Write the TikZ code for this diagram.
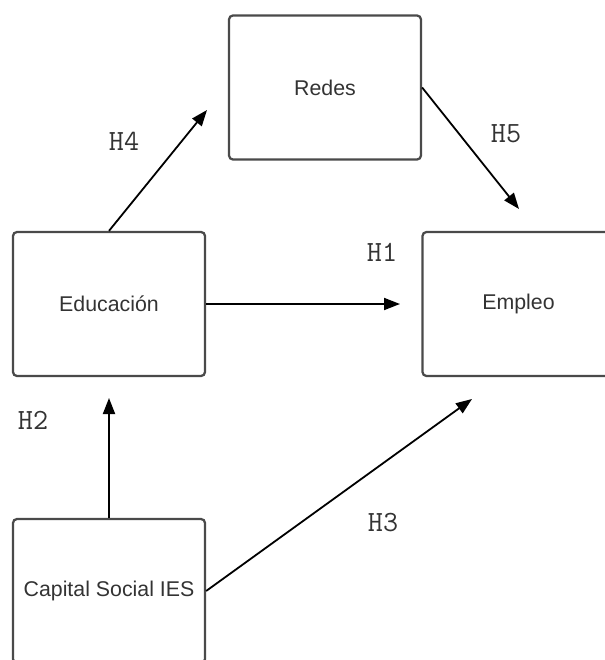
\documentclass[tikz,border=0pt]{standalone}
\usepackage{fontspec}
\setmainfont{Liberation Sans}
\usetikzlibrary{arrows.meta}
\definecolor{boxline}{HTML}{4A4A4A}
\definecolor{labeltext}{HTML}{333333}
\begin{document}
\begin{tikzpicture}[x=0.75pt, y=-0.75pt,
  concept/.style={draw=boxline, line width=1.7pt, rounded corners=3pt,
    minimum width=144pt, minimum height=108pt, inner sep=0pt,
    font=\fontsize{16}{19}\selectfont, text=labeltext},
  link/.style={draw=black, line width=1.35pt,
    -{Triangle[length=12pt,width=9pt]}},
  hyp/.style={font=\ttfamily\fontsize{22}{26}\selectfont, text=labeltext, inner sep=0pt}]
\useasboundingbox (0,0) rectangle (605,660);

% constructs of the model
\node[concept] (redes)   at (325,87.5) {Redes};
\node[concept] (educ)    at (109,304)  {Educación};
\node[concept] (empleo)  at (518.5,304) {Empleo};
\node[concept] (capital) at (109,591)  {Capital Social IES};

% free ends of the hypothesis arrows
\coordinate (h4end) at (207,110);
\coordinate (h5end) at (519,209);
\coordinate (h1end) at (400,304);
\coordinate (h2end) at (109,398);
\coordinate (h3end) at (472,399);

% hypotheses
\draw[link] (educ.north)   -- (h4end);
\draw[link] (redes.east)   -- (h5end);
\draw[link] (educ.east)    -- (h1end);
\draw[link] (capital.north) -- (h2end);
\draw[link] (capital.east) -- (h3end);

% hypothesis labels
\node[hyp] (l4) at (124,141) {H4};
\node[hyp] (l5) at (506,134) {H5};
\node[hyp] (l1) at (382,252) {H1};
\node[hyp] (l2) at (33,420)  {H2};
\node[hyp] (l3) at (383,523) {H3};
\end{tikzpicture}
\end{document}
